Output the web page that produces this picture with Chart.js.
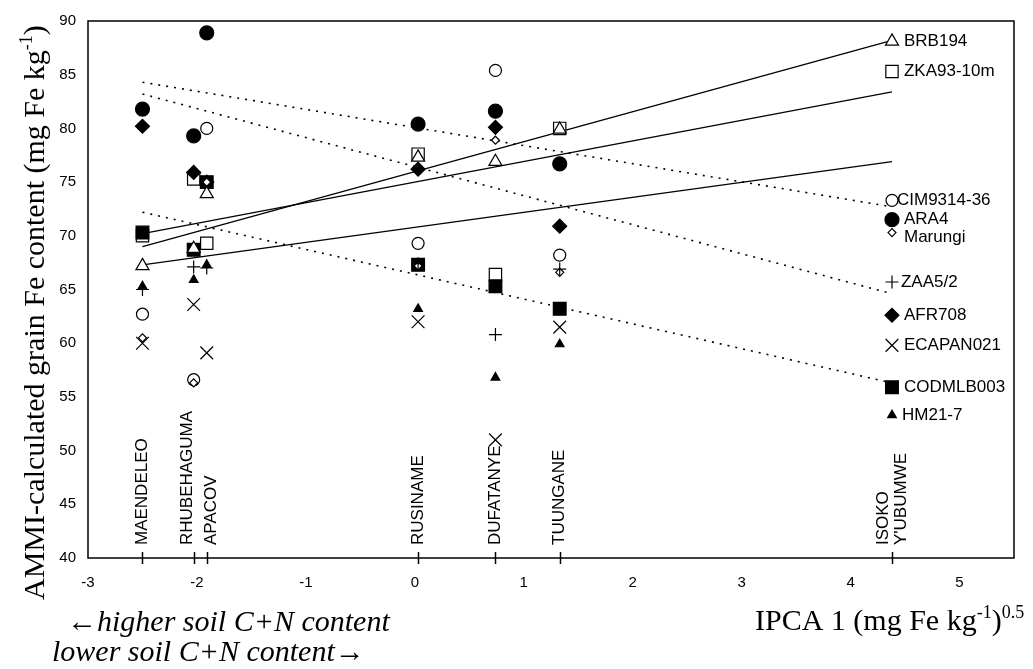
<!DOCTYPE html>
<html>
<head>
<meta charset="utf-8">
<script src="https://cdn.jsdelivr.net/npm/chart.js@4.4.0/dist/chart.umd.min.js"></script>
<style>
  html, body { margin: 0; padding: 0; background: #fff; }
  #wrap { width: 1033px; height: 669px; position: relative; }
</style>
</head>
<body>
<div id="wrap"><canvas id="ammiChart"></canvas></div>
<script>
// environments (IPCA 1 scores)
var envNames = ["MAENDELEO", "RHUBEHAGUMA", "APACOV", "RUSINAME", "DUFATANYE", "TUUNGANE", "ISOKO Y'UBUMWE"];
var envIpca = [-2.50, -2.03, -1.91, 0.03, 0.74, 1.33, 4.38];

// AMMI-calculated grain Fe per genotype, same order as envNames
var genotypes = ["BRB194", "ZKA93-10m", "CIM9314-36", "ARA4", "Marungi", "ZAA5/2", "AFR708", "ECAPAN021", "CODMLB003", "HM21-7"];
var brb194 = [67.2, 68.8, 73.9, 77.3, 76.9, 79.9, 88.1];
var zka9310m = [70.0, 75.3, 69.3, 77.6, 66.4, 80.0, 85.3];
var cim931436 = [62.7, 56.6, 80.0, 69.3, 85.4, 68.2, 73.3];
var ara4 = [81.8, 79.3, 88.9, 80.4, 81.6, 76.7, 71.5];
var marungi = [60.5, 56.3, 75.0, 67.2, 78.9, 66.6, 70.3];
var zaa52 = [65.0, 67.1, 67.0, 67.4, 60.8, 66.9, 65.7];
var afr708 = [80.2, 75.9, 75.0, 76.2, 80.1, 70.9, 62.6];
var ecapan021 = [60.0, 63.6, 59.1, 62.0, 51.0, 61.5, 59.8];
var codmlb003 = [70.3, 68.7, 75.0, 67.3, 65.3, 63.2, 55.9];
var hm217 = [65.3, 65.9, 67.3, 63.2, 56.8, 59.9, 53.3];
var series = [brb194, zka9310m, cim931436, ara4, marungi, zaa52, afr708, ecapan021, codmlb003, hm217];

// regression lines, value at first and last environment
var fitStart = [69.0, 70.2, 67.3, 84.3, 83.2, 72.2];
var fitEnd = [88.2, 83.4, 76.9, 72.7, 64.6, 56.3];
var fitDotted = [false, false, false, true, true, true];

var xTicks = [-3, -2, -1, 0, 1, 2, 3, 4, 5];
var yTicks = [40, 45, 50, 55, 60, 65, 70, 75, 80, 85, 90];

// marker looks (parallel to genotypes)
var markerShape = ["triangle", "rect", "circle", "circle", "rectRot", "cross", "rectRot", "crossRot", "rect", "triangle"];
var markerRadius = [7.5, 8.7, 6, 7, 4, 6.5, 7, 9, 9, 5];
var markerFill = ["#fff", "#fff", "#fff", "#000", "#fff", "#000", "#000", "#000", "#000", "#000"];
var drawOrder = [4, 7, 9, 8, 2, 1, 6, 3, 5, 0];
var labelDx = [12, 12, 5, 12, 12, 9, 12, 12, 12, 10];
var labelDy = [0, 0, 0, 0, 5, 0, 0, 0, 0, 0];
var envLabelDx = [0, -6, 4.5, 0, 0, 0, 0];

var SANS = '"Liberation Sans", Arial, sans-serif';
var SERIF = '"Liberation Serif", "Times New Roman", serif';

var datasets = [];
genotypes.forEach(function (g, i) {
  datasets.push({
    label: g,
    data: envIpca.map(function (x, j) { return { x: x, y: series[i][j] }; }),
    pointStyle: markerShape[i],
    pointRadius: markerRadius[i],
    pointBackgroundColor: markerFill[i],
    pointBorderColor: "#000",
    pointBorderWidth: 1.2,
    showLine: false,
    order: drawOrder[i],
  });
});
fitStart.forEach(function (v, i) {
  datasets.push({
    label: "fit" + i,
    data: [
      { x: envIpca[0], y: v },
      { x: envIpca[envIpca.length - 1], y: fitEnd[i] },
    ],
    showLine: true,
    borderColor: "#000",
    borderWidth: fitDotted[i] ? 1.6 : 1.3,
    borderDash: fitDotted[i] ? [2, 6] : [],
    pointRadius: 0,
    fill: false,
    order: 20,
  });
});

function drawRich(ctx, parts, x, y, size) {
  parts.forEach(function (p) {
    var fs = p.sup ? Math.round(size * 0.6) : size;
    ctx.font = (p.italic ? "italic " : "") + fs + "px " + SERIF;
    ctx.fillText(p.t, x, p.sup ? y - size * 0.4 : y);
    x += ctx.measureText(p.t).width;
  });
}

var chartDecor = {
  id: "chartDecor",
  beforeDatasetsDraw: function (chart) {
    var ctx = chart.ctx, a = chart.chartArea, xs = chart.scales.x;
    ctx.save();
    ctx.strokeStyle = "#000";
    ctx.lineWidth = 1.5;
    ctx.strokeRect(a.left, a.top, a.right - a.left, a.bottom - a.top);
    envIpca.forEach(function (v) {
      var px = Math.round(xs.getPixelForValue(v)) + 0.5;
      ctx.beginPath();
      ctx.moveTo(px, a.bottom - 6);
      ctx.lineTo(px, a.bottom + 6);
      ctx.stroke();
    });
    // environment names, vertical
    ctx.fillStyle = "#000";
    ctx.font = "17px " + SANS;
    ctx.textAlign = "left";
    ctx.textBaseline = "middle";
    envNames.forEach(function (name, i) {
      var lines = i === envNames.length - 1 ? name.split(" ") : [name];
      var px = xs.getPixelForValue(envIpca[i]) + envLabelDx[i];
      lines.forEach(function (t, j) {
        ctx.save();
        ctx.translate(px + (j - (lines.length - 1) / 2) * 18, a.bottom - 13);
        ctx.rotate(-Math.PI / 2);
        ctx.fillText(t, 0, 0);
        ctx.restore();
      });
    });
    ctx.restore();
  },
  afterDatasetsDraw: function (chart) {
    var ctx = chart.ctx, xs = chart.scales.x, ys = chart.scales.y;
    var last = envIpca.length - 1;
    ctx.save();
    ctx.fillStyle = "#000";
    ctx.font = "17px " + SANS;
    ctx.textAlign = "left";
    ctx.textBaseline = "middle";
    genotypes.forEach(function (g, i) {
      ctx.fillText(g, xs.getPixelForValue(envIpca[last]) + labelDx[i], ys.getPixelForValue(series[i][last]) + labelDy[i]);
    });
    ctx.restore();
  },
  afterDraw: function (chart) {
    var ctx = chart.ctx;
    ctx.save();
    ctx.fillStyle = "#000";
    ctx.textAlign = "left";
    ctx.textBaseline = "alphabetic";
    // y title
    ctx.save();
    ctx.translate(44, 600);
    ctx.rotate(-Math.PI / 2);
    drawRich(ctx, [
      { t: "AMMI-calculated grain Fe content (mg Fe kg" },
      { t: "-1", sup: true },
      { t: ")" },
    ], 0, 0, 30);
    ctx.restore();
    // x title
    drawRich(ctx, [
      { t: "IPCA 1 (mg Fe kg" },
      { t: "-1", sup: true },
      { t: ")" },
      { t: "0.5", sup: true },
    ], 755, 630, 30);
    drawRich(ctx, [{ t: "\u2190higher soil C+N content", italic: true }], 67, 631, 30);
    drawRich(ctx, [{ t: "lower soil C+N content\u2192", italic: true }], 52, 661, 30);
    ctx.restore();
  },
};

new Chart(document.getElementById("ammiChart").getContext("2d"), {
  type: "scatter",
  data: { datasets: datasets },
  options: {
    responsive: true,
    maintainAspectRatio: false,
    animation: false,
    events: [],
    layout: { padding: { top: 16, right: 19, left: 0, bottom: 0 } },
    plugins: {
      legend: { display: false },
      tooltip: { enabled: false },
    },
    scales: {
      x: {
        type: "linear",
        min: -3,
        max: 5.5,
        afterBuildTicks: function (scale) {
          scale.ticks = xTicks.map(function (v) { return { value: v }; });
        },
        afterFit: function (scale) { scale.height = 111; },
        grid: { display: false, drawTicks: false },
        border: { display: false },
        ticks: {
          autoSkip: false,
          maxRotation: 0,
          padding: 16,
          color: "#000",
          font: { family: SANS, size: 15 },
        },
      },
      y: {
        type: "linear",
        min: 40,
        max: 90,
        afterBuildTicks: function (scale) {
          scale.ticks = yTicks.map(function (v) { return { value: v }; });
        },
        afterFit: function (scale) { scale.width = 88; },
        grid: { display: false, drawTicks: false },
        border: { display: false },
        ticks: {
          padding: 12,
          color: "#000",
          font: { family: SANS, size: 15 },
        },
      },
    },
  },
  plugins: [chartDecor],
});
</script>
</body>
</html>
